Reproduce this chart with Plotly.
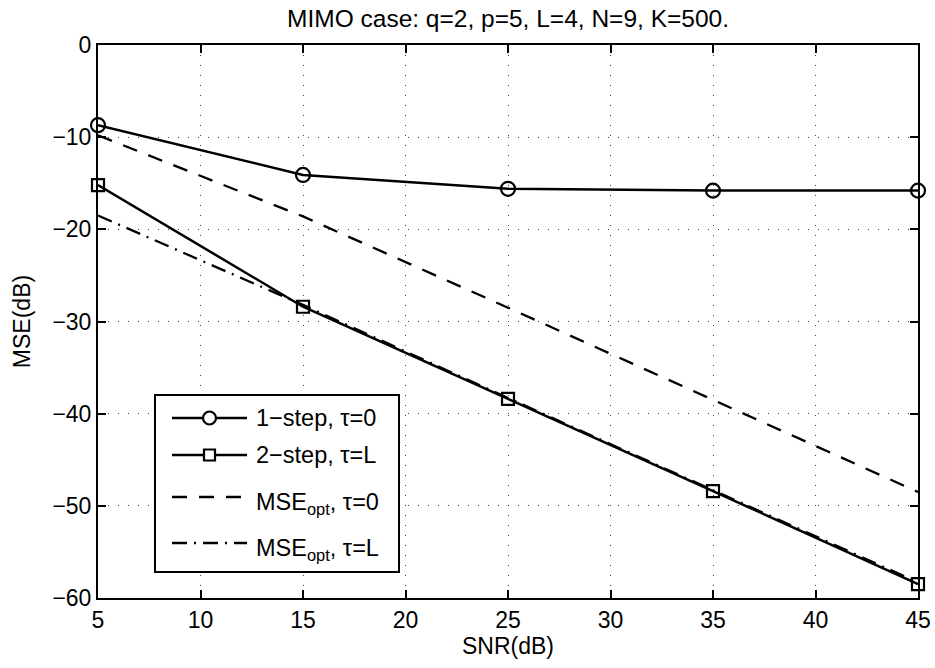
import plotly.graph_objects as go

# ---- data ----
snr = [5, 15, 25, 35, 45]
one_step_tau0 = [-8.7, -14.1, -15.6, -15.8, -15.8]
two_step_tauL = [-15.2, -28.4, -38.4, -48.4, -58.5]
mse_opt_tau0 = [-9.8, -18.6, -28.5, -38.5, -48.5]
mse_opt_tauL = [-18.5, -28.2, -38.3, -48.3, -58.3]

x_ticks = [5, 10, 15, 20, 25, 30, 35, 40, 45]
y_ticks = [0, -10, -20, -30, -40, -50, -60]

legend_labels = ["1\u2212step, \u03c4=0", "2\u2212step, \u03c4=L",
                 "MSE<sub>opt</sub>, \u03c4=0", "MSE<sub>opt</sub>, \u03c4=L"]

FONT = "Liberation Sans, Arial, Helvetica, sans-serif"
W, H = 935, 668
ML, MR, MT, MB = 98, 17, 45, 70
PW, PH = W - ML - MR, H - MT - MB

DASH = "15px,12px"
DASHDOT = "15px,7px,2px,7px"
FS = 23

fig = go.Figure()
fig.add_trace(go.Scatter(x=snr, y=mse_opt_tau0, mode="lines",
                         line=dict(color="black", width=2.3, dash=DASH),
                         showlegend=False))
fig.add_trace(go.Scatter(x=snr, y=mse_opt_tauL, mode="lines",
                         line=dict(color="black", width=2.3, dash=DASHDOT),
                         showlegend=False))
fig.add_trace(go.Scatter(x=snr, y=one_step_tau0, mode="lines+markers",
                         line=dict(color="black", width=2.5),
                         marker=dict(symbol="circle-open", size=14, color="black",
                                     line=dict(width=2.2, color="black")),
                         cliponaxis=False, showlegend=False))
fig.add_trace(go.Scatter(x=snr, y=two_step_tauL, mode="lines+markers",
                         line=dict(color="black", width=2.5),
                         marker=dict(symbol="square-open", size=12, color="black",
                                     line=dict(width=2.2, color="black")),
                         cliponaxis=False, showlegend=False))


def px_x(p):
    return (p - ML) / PW


def px_y(p):
    return (H - MB - p) / PH


shapes = []
annotations = []

# legend box
shapes.append(dict(type="rect", xref="paper", yref="paper",
                   x0=px_x(155), x1=px_x(399), y0=px_y(572), y1=px_y(395),
                   line=dict(color="black", width=2), fillcolor="white",
                   layer="above"))
rows = [418, 455, 497, 543]
styles = [("solid", "circle"), ("solid", "square"), (DASH, None), (DASHDOT, None)]
for lbl, ry, (dash, mk) in zip(legend_labels, rows, styles):
    shapes.append(dict(type="line", xref="paper", yref="paper",
                       x0=px_x(172), x1=px_x(247), y0=px_y(ry), y1=px_y(ry),
                       line=dict(color="black", width=2.3, dash=dash), layer="above"))
    if mk is not None:
        size = 13 if mk == "circle" else 11
        shapes.append(dict(type=mk if mk == "circle" else "rect",
                           xref="paper", yref="paper",
                           xsizemode="pixel", ysizemode="pixel",
                           xanchor=px_x(209.5), yanchor=px_y(ry),
                           x0=-size / 2, x1=size / 2, y0=-size / 2, y1=size / 2,
                           line=dict(color="black", width=2.2),
                           fillcolor="white", layer="above"))
    sub = "<sub>" in lbl
    annotations.append(dict(text=lbl, xref="paper", yref="paper",
                            x=px_x(254), y=px_y(ry), xanchor="left",
                            yanchor="middle", showarrow=False,
                            yshift=-6 if sub else 0,
                            font=dict(size=23.5, color="black", family=FONT)))

axis_common = dict(showline=True, linecolor="black", linewidth=2,
                   mirror="ticks", ticks="inside", ticklen=8, tickwidth=1.5,
                   tickcolor="black", showgrid=True, gridcolor="rgba(0,0,0,0.75)",
                   griddash="1px,9px", gridwidth=1, zeroline=False,
                   tickfont=dict(size=FS, color="black", family=FONT))

fig.update_layout(
    width=W, height=H,
    margin=dict(l=ML, r=MR, t=MT, b=MB, autoexpand=False),
    paper_bgcolor="white", plot_bgcolor="white",
    font=dict(family=FONT, color="black", size=FS),
    title=dict(text="MIMO case: q=2, p=5, L=4, N=9, K=500.",
               x=(ML + PW / 2) / W, xanchor="center",
               y=1 - 18 / H, yanchor="middle",
               font=dict(size=24.5, color="black", family=FONT)),
    xaxis=dict(range=[5, 45], tickvals=x_ticks, **axis_common,
               title=dict(text="SNR(dB)", standoff=6,
                          font=dict(size=FS, color="black", family=FONT))),
    yaxis=dict(range=[-60, 0], tickvals=y_ticks, **axis_common,
               title=dict(text="MSE(dB)", standoff=15,
                          font=dict(size=FS, color="black", family=FONT))),
    shapes=shapes, annotations=annotations, showlegend=False,
)

fig.write_html("out.html",
               config={"displayModeBar": False},
               post_script="document.body.style.margin='0';"
                           "document.body.style.overflow='hidden';")
